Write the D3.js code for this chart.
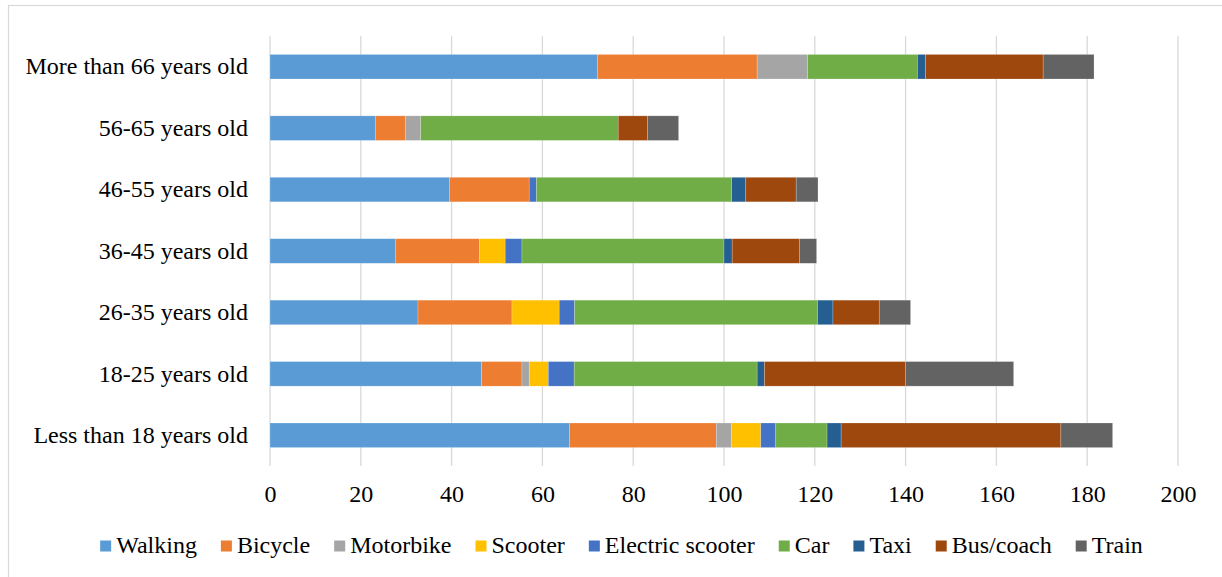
<!DOCTYPE html>
<html>
<head>
<meta charset="utf-8">
<script src="https://cdn.jsdelivr.net/npm/d3@7"></script>
<style>
  html, body { margin: 0; padding: 0; background: #fff; }
  svg { display: block; }
  svg text { font-family: "Liberation Serif", "Times New Roman", serif; }
</style>
</head>
<body>
<svg id="chart" width="1222" height="577"></svg>
<script>
// Age groups, listed top to bottom
const categories = [
  "More than 66 years old",
  "56-65 years old",
  "46-55 years old",
  "36-45 years old",
  "26-35 years old",
  "18-25 years old",
  "Less than 18 years old"
];

const modes = ["Walking", "Bicycle", "Motorbike", "Scooter", "Electric scooter", "Car", "Taxi", "Bus/coach", "Train"];

// One array per transport mode, in the same order as categories
const walking         = [72.1, 23.2, 39.5, 27.6, 32.6, 46.6, 66.0];
const bicycle         = [35.2,  6.6, 17.6, 18.5, 20.7,  8.9, 32.3];
const motorbike       = [11.1,  3.4,  0.0,  0.0,  0.0,  1.6,  3.3];
const scooter         = [ 0.0,  0.0,  0.0,  5.7, 10.4,  4.2,  6.5];
const electricScooter = [ 0.0,  0.0,  1.6,  3.7,  3.4,  5.7,  3.3];
const car             = [24.2, 43.5, 43.0, 44.5, 53.5, 40.3, 11.3];
const taxi            = [ 1.8,  0.0,  3.1,  1.8,  3.4,  1.6,  3.1];
const busCoach        = [25.9,  6.5, 11.1, 14.8, 10.2, 31.1, 48.4];
const train           = [11.2,  6.8,  4.8,  3.8,  6.9, 23.8, 11.4];

const xTicks = [0, 20, 40, 60, 80, 100, 120, 140, 160, 180, 200];

const colors = ["#5B9BD5", "#ED7D31", "#A5A5A5", "#FFC000", "#4472C4", "#70AD47", "#255E91", "#9E480E", "#636363"];

const seriesValues = [walking, bicycle, motorbike, scooter, electricScooter, car, taxi, busCoach, train];

const FONT = '"Liberation Serif", "Times New Roman", serif';

// Build rows for the stack layout
const rows = categories.map((c, i) => {
  const r = { category: c };
  modes.forEach((m, j) => { r[m] = seriesValues[j][i]; });
  return r;
});

const svg = d3.select("#chart").attr("font-family", FONT);
const plot = { left: 270, right: 1178, top: 36, bottom: 466 };

// Chart frame
svg.append("rect")
  .attr("x", 8.5).attr("y", 5.5)
  .attr("width", 1300).attr("height", 700)
  .attr("fill", "none").attr("stroke", "#d9d9d9").attr("stroke-width", 1.2);

const x = d3.scaleLinear().domain([0, 200]).range([plot.left, plot.right]);
const y = d3.scaleBand().domain(categories).range([plot.top, plot.bottom])
  .paddingInner(0.6).paddingOuter(0.3);

// Vertical gridlines
svg.append("g").selectAll("line")
  .data(xTicks.slice(1))
  .join("line")
  .attr("x1", d => x(d)).attr("x2", d => x(d))
  .attr("y1", plot.top).attr("y2", plot.bottom)
  .attr("stroke", "#d9d9d9").attr("stroke-width", 1.3);

// Category axis line
svg.append("line")
  .attr("x1", x(0)).attr("x2", x(0))
  .attr("y1", plot.top).attr("y2", plot.bottom)
  .attr("stroke", "#d9d9d9").attr("stroke-width", 1.3);

// Stacked bars
const stack = d3.stack().keys(modes);
const layers = stack(rows);

svg.append("g").selectAll("g")
  .data(layers)
  .join("g")
  .attr("fill", (d, i) => colors[i])
  .selectAll("rect")
  .data(d => d)
  .join("rect")
  .attr("x", d => x(d[0]))
  .attr("y", d => y(d.data.category))
  .attr("width", d => Math.max(0, x(d[1]) - x(d[0])))
  .attr("height", y.bandwidth())
  .attr("stroke", "#ffffff")
  .attr("stroke-opacity", 0.35)
  .attr("stroke-width", d => (d[1] - d[0]) > 0 ? 0.6 : 0);

// Value axis labels
const xAxis = d3.axisBottom(x).tickValues(xTicks).tickSize(0).tickPadding(0);
const xg = svg.append("g").attr("transform", `translate(0, 502)`).call(xAxis);
xg.attr("font-family", FONT).attr("font-size", 24);
xg.select(".domain").remove();
xg.selectAll("text")
  .attr("dy", 0)
  .style("font-family", FONT)
  .attr("font-size", 24)
  .attr("fill", "#000");

// Category labels
const yAxis = d3.axisLeft(y).tickSize(0).tickPadding(0);
const yg = svg.append("g").attr("transform", `translate(248, 0)`).call(yAxis);
yg.attr("font-family", FONT).attr("font-size", 24);
yg.select(".domain").remove();
yg.selectAll("text")
  .attr("dy", "0.32em")
  .style("font-family", FONT)
  .attr("font-size", 24)
  .attr("fill", "#000");

// Legend, centred under the chart
const legend = svg.append("g");
const sw = 11, gapText = 5, gapItem = 24, legendBaseline = 552.5;
const items = legend.selectAll("g").data(modes).join("g");
items.append("rect")
  .attr("width", sw).attr("height", sw)
  .attr("y", legendBaseline - sw - 1)
  .attr("fill", (d, i) => colors[i]);
items.append("text")
  .attr("x", sw + gapText)
  .attr("y", legendBaseline)
  .style("font-family", FONT)
  .attr("font-size", 24)
  .attr("fill", "#000")
  .text(d => d);

let cursor = 0;
items.each(function () {
  const w = this.querySelector("text").getComputedTextLength();
  d3.select(this).attr("transform", `translate(${cursor},0)`);
  cursor += sw + gapText + w + gapItem;
});
const total = cursor - gapItem;
legend.attr("transform", `translate(${621.5 - total / 2},0)`);
</script>
</body>
</html>
